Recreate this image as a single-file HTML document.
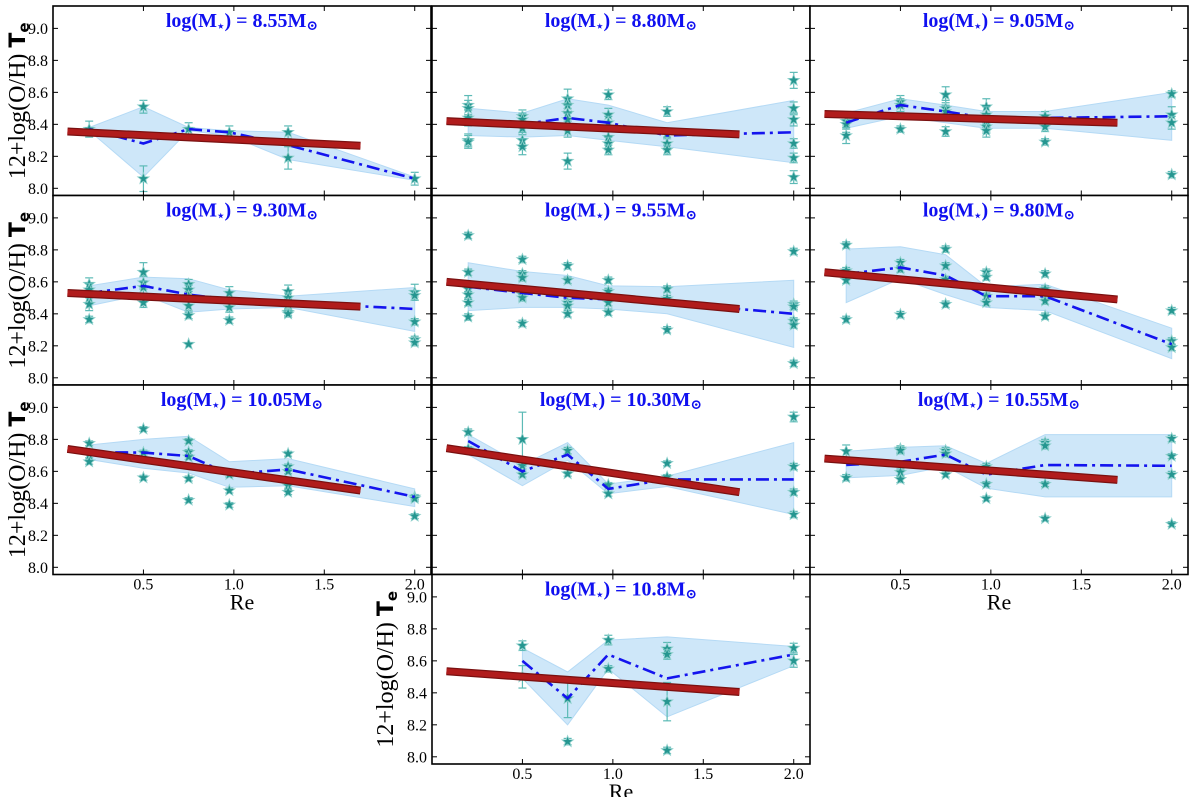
<!DOCTYPE html>
<html><head><meta charset="utf-8">
<style>
html,body{margin:0;padding:0;background:#fff;}
svg{display:block;}
.tick{font-family:"Liberation Serif","DejaVu Serif",serif;font-size:16px;fill:#000;}
.ttl{font-family:"Liberation Serif","DejaVu Serif",serif;font-weight:bold;font-size:20px;fill:#1010f0;}
.ylab{font-family:"Liberation Serif","DejaVu Serif",serif;font-size:24px;fill:#000;}
.xlab{font-family:"Liberation Serif","DejaVu Serif",serif;font-size:22px;fill:#000;}
</style></head>
<body>
<svg id="chart" width="1200" height="797" viewBox="0 0 1200 797" xmlns="http://www.w3.org/2000/svg"></svg>
<script>
// ---- data ----
const massLabels = ["8.55","8.80","9.05","9.30","9.55","9.80","10.05","10.30","10.55","10.8"];
const binsX = [0.2,0.5,0.75,0.975,1.3,2.0];
const binsXLast = [0.5,0.75,0.975,1.3,2.0];
const meanY = [
 [8.37,8.28,8.37,8.35,8.27,8.06],
 [8.43,8.40,8.44,8.41,8.33,8.35],
 [8.41,8.52,8.48,8.44,8.44,8.45],
 [8.53,8.575,8.52,8.49,8.47,8.43],
 [8.57,8.53,8.50,8.49,8.47,8.40],
 [8.65,8.69,8.64,8.51,8.51,8.21],
 [8.72,8.717,8.696,8.583,8.612,8.44],
 [8.79,8.60,8.705,8.49,8.55,8.55],
 [8.64,8.66,8.705,8.58,8.64,8.635],
 [8.60,8.365,8.64,8.49,8.64]
];
const upperY = [
 [8.38,8.51,8.38,8.36,8.35,8.07],
 [8.50,8.47,8.56,8.52,8.41,8.55],
 [8.47,8.56,8.52,8.48,8.48,8.60],
 [8.575,8.63,8.62,8.55,8.51,8.565],
 [8.72,8.665,8.64,8.575,8.57,8.61],
 [8.805,8.82,8.77,8.57,8.585,8.31],
 [8.765,8.80,8.82,8.66,8.68,8.49],
 [8.83,8.64,8.78,8.52,8.57,8.78],
 [8.725,8.75,8.76,8.65,8.83,8.83],
 [8.68,8.53,8.73,8.75,8.69]
];
const lowerY = [
 [8.36,8.07,8.36,8.33,8.18,8.05],
 [8.33,8.32,8.33,8.30,8.26,8.16],
 [8.375,8.45,8.41,8.375,8.375,8.30],
 [8.45,8.52,8.41,8.43,8.44,8.29],
 [8.42,8.44,8.44,8.43,8.40,8.19],
 [8.47,8.62,8.52,8.44,8.42,8.12],
 [8.675,8.62,8.59,8.50,8.51,8.38],
 [8.705,8.51,8.67,8.46,8.505,8.33],
 [8.56,8.575,8.63,8.495,8.44,8.44],
 [8.49,8.20,8.55,8.25,8.57]
];
// points: [Re, value, error]
const points0 = [[0.2,8.37,0.05],[0.5,8.51,0.04],[0.5,8.06,0.08],[0.75,8.37,0.04],[0.975,8.35,0.04],[1.3,8.35,0.04],[1.3,8.19,0.07],[2.0,8.06,0.04]];
const points1 = [[0.2,8.52,0.06],[0.2,8.50,0.05],[0.2,8.44,0.05],[0.2,8.30,0.04],[0.2,8.29,0.04],[0.5,8.45,0.04],[0.5,8.43,0.04],[0.5,8.375,0.04],[0.5,8.30,0.05],[0.5,8.26,0.05],[0.75,8.56,0.06],[0.75,8.52,0.05],[0.75,8.47,0.05],[0.75,8.43,0.04],[0.75,8.36,0.04],[0.75,8.17,0.05],[0.975,8.585,0.03],[0.975,8.46,0.04],[0.975,8.41,0.04],[0.975,8.32,0.04],[0.975,8.28,0.04],[0.975,8.24,0.03],[1.3,8.48,0.03],[1.3,8.34,0.03],[1.3,8.28,0.04],[1.3,8.24,0.03],[2.0,8.675,0.05],[2.0,8.50,0.04],[2.0,8.43,0.04],[2.0,8.28,0.03],[2.0,8.19,0.03],[2.0,8.07,0.04]];
const points2 = [[0.2,8.42,0.05],[0.2,8.40,0.05],[0.2,8.33,0.05],[0.5,8.54,0.04],[0.5,8.52,0.04],[0.5,8.37,0.02],[0.75,8.585,0.05],[0.75,8.50,0.05],[0.75,8.48,0.04],[0.75,8.355,0.03],[0.975,8.51,0.05],[0.975,8.46,0.05],[0.975,8.42,0.04],[0.975,8.385,0.04],[0.975,8.36,0.04],[1.3,8.45,0.03],[1.3,8.385,0.03],[1.3,8.29,0.02],[2.0,8.59,0.02],[2.0,8.46,0.05],[2.0,8.41,0.04],[2.0,8.085,0.02]];
const points3 = [[0.2,8.585,0.04],[0.2,8.55,0.04],[0.2,8.50,0.04],[0.2,8.46,0.04],[0.2,8.365,0.02],[0.5,8.66,0.06],[0.5,8.595,0.04],[0.5,8.565,0.04],[0.5,8.47,0.03],[0.75,8.585,0.03],[0.75,8.55,0.03],[0.75,8.51,0.03],[0.75,8.45,0.03],[0.75,8.39,0.02],[0.75,8.21,0.0],[0.975,8.53,0.04],[0.975,8.44,0.03],[0.975,8.36,0.02],[1.3,8.54,0.04],[1.3,8.50,0.03],[1.3,8.46,0.03],[1.3,8.41,0.02],[1.3,8.40,0.02],[2.0,8.535,0.05],[2.0,8.515,0.03],[2.0,8.35,0.02],[2.0,8.24,0.02],[2.0,8.22,0.02]];
const points4 = [[0.2,8.89,0.02],[0.2,8.66,0.02],[0.2,8.555,0.02],[0.2,8.52,0.02],[0.2,8.47,0.02],[0.2,8.38,0.02],[0.5,8.74,0.02],[0.5,8.65,0.02],[0.5,8.625,0.02],[0.5,8.52,0.02],[0.5,8.50,0.02],[0.5,8.34,0.02],[0.75,8.70,0.02],[0.75,8.61,0.02],[0.75,8.47,0.02],[0.75,8.45,0.02],[0.75,8.40,0.02],[0.975,8.61,0.02],[0.975,8.54,0.02],[0.975,8.47,0.02],[0.975,8.41,0.02],[1.3,8.555,0.02],[1.3,8.495,0.02],[1.3,8.30,0.02],[2.0,8.79,0.02],[2.0,8.46,0.02],[2.0,8.445,0.02],[2.0,8.355,0.02],[2.0,8.33,0.02],[2.0,8.09,0.02]];
const points5 = [[0.2,8.83,0.02],[0.2,8.67,0.02],[0.2,8.61,0.02],[0.2,8.365,0.02],[0.5,8.72,0.02],[0.5,8.68,0.02],[0.5,8.395,0.02],[0.75,8.805,0.02],[0.75,8.70,0.02],[0.75,8.615,0.02],[0.75,8.46,0.02],[0.975,8.66,0.02],[0.975,8.63,0.02],[0.975,8.51,0.02],[0.975,8.47,0.02],[1.3,8.65,0.02],[1.3,8.555,0.02],[1.3,8.48,0.02],[1.3,8.385,0.02],[2.0,8.42,0.02],[2.0,8.23,0.02],[2.0,8.19,0.02]];
const points6 = [[0.2,8.775,0.015],[0.2,8.70,0.015],[0.2,8.66,0.015],[0.5,8.865,0.015],[0.5,8.717,0.015],[0.5,8.56,0.015],[0.75,8.79,0.015],[0.75,8.72,0.015],[0.75,8.69,0.015],[0.75,8.555,0.015],[0.75,8.42,0.015],[0.975,8.58,0.015],[0.975,8.48,0.015],[0.975,8.39,0.015],[1.3,8.71,0.015],[1.3,8.63,0.015],[1.3,8.60,0.015],[1.3,8.51,0.015],[1.3,8.47,0.015],[2.0,8.44,0.015],[2.0,8.43,0.015],[2.0,8.32,0.015]];
const points7 = [[0.2,8.845,0.02],[0.2,8.74,0.015],[0.5,8.80,0.17],[0.5,8.635,0.02],[0.5,8.58,0.015],[0.75,8.73,0.02],[0.75,8.585,0.015],[0.975,8.515,0.015],[0.975,8.46,0.015],[1.3,8.65,0.015],[1.3,8.565,0.015],[2.0,8.94,0.03],[2.0,8.63,0.02],[2.0,8.47,0.02],[2.0,8.33,0.02]];
const points8 = [[0.2,8.725,0.04],[0.2,8.56,0.02],[0.5,8.74,0.02],[0.5,8.73,0.02],[0.5,8.595,0.02],[0.5,8.55,0.02],[0.75,8.73,0.02],[0.75,8.71,0.02],[0.75,8.58,0.015],[0.975,8.63,0.02],[0.975,8.52,0.015],[0.975,8.43,0.015],[1.3,8.78,0.02],[1.3,8.76,0.02],[1.3,8.52,0.015],[1.3,8.305,0.015],[2.0,8.805,0.02],[2.0,8.695,0.015],[2.0,8.58,0.02],[2.0,8.27,0.015]];
const points9 = [[0.5,8.695,0.03],[0.5,8.50,0.07],[0.75,8.365,0.12],[0.75,8.095,0.02],[0.975,8.73,0.03],[0.975,8.55,0.02],[1.3,8.675,0.04],[1.3,8.64,0.03],[1.3,8.345,0.12],[1.3,8.04,0.02],[2.0,8.68,0.03],[2.0,8.60,0.04]];
const pointSets = [points0,points1,points2,points3,points4,points5,points6,points7,points8,points9];
const fitStartX = 0.08, fitEndX = 1.7;
const fitStartY = [8.355,8.42,8.465,8.53,8.60,8.66,8.74,8.745,8.68,8.535];
const fitEndY   = [8.266,8.337,8.41,8.445,8.43,8.49,8.48,8.47,8.547,8.405];
const yTicks = [8.0,8.2,8.4,8.6,8.8,9.0];
const yTickLabels = ["8.0","8.2","8.4","8.6","8.8","9.0"];
const xTicks = [0.5,1.0,1.5,2.0];
const xTickLabels = ["0.5","1.0","1.5","2.0"];

// ---- layout ----
const NS="http://www.w3.org/2000/svg";
const svg=document.getElementById('chart');
const colL=[53,432,810], PW=378, rowT=[6,195.5,385,574.5], PH=189.5;
const XMIN=0, XMAX=2.09, YMIN=7.955, YMAX=9.14;
function mk(tag,attrs,parent){const e=document.createElementNS(NS,tag);for(const k in attrs)e.setAttribute(k,attrs[k]);(parent||svg).appendChild(e);return e;}
function starPts(cx,cy,R){const r=R*0.42;let p=[];for(let i=0;i<10;i++){const a=-Math.PI/2+i*Math.PI/5;const rr=i%2?r:R;p.push((cx+rr*Math.cos(a)).toFixed(1)+','+(cy+rr*Math.sin(a)).toFixed(1));}return p.join(' ');}

const panels=[];
for(let i=0;i<9;i++)panels.push({L:colL[i%3],T:rowT[Math.floor(i/3)]});
panels.push({L:colL[1],T:rowT[3]});

panels.forEach((pn,i)=>{
  const sx=v=>pn.L+(v-XMIN)/(XMAX-XMIN)*PW;
  const sy=v=>pn.T+(YMAX-v)/(YMAX-YMIN)*PH;
  const g=mk('g',{});
  
  
  mk('rect',{x:pn.L,y:pn.T,width:PW,height:PH,fill:'#fff'},g);
  const bx = i===9?binsXLast:binsX;
  let d='';
  bx.forEach((x,k)=>{d+=(k?'L':'M')+sx(x).toFixed(1)+','+sy(upperY[i][k]).toFixed(1);});
  for(let k=bx.length-1;k>=0;k--)d+='L'+sx(bx[k]).toFixed(1)+','+sy(lowerY[i][k]).toFixed(1);
  const band=mk('path',{d:d+'Z',fill:'#c9e4f8','fill-opacity':'0.9',stroke:'#b5daf5','stroke-width':1},g);
  
  
  pointSets[i].forEach(p=>{
    const cx=sx(p[0]),cy=sy(p[1]);
    if(p[2]>0){
      const y1=sy(p[1]+p[2]),y2=sy(p[1]-p[2]);
      mk('line',{x1:cx,y1:y1,x2:cx,y2:y2,stroke:'#5cbab6','stroke-width':1.2},g);
      mk('line',{x1:cx-4,y1:y1,x2:cx+4,y2:y1,stroke:'#5cbab6','stroke-width':1.2},g);
      mk('line',{x1:cx-4,y1:y2,x2:cx+4,y2:y2,stroke:'#5cbab6','stroke-width':1.2},g);
    }
    const s=mk('polygon',{points:starPts(cx,cy,6),fill:'#259690',stroke:'#8fd0cc','stroke-width':0.8},g);
    
    
  });
  const md=bx.map((x,k)=>(k?'L':'M')+sx(x).toFixed(1)+','+sy(meanY[i][k]).toFixed(1)).join('');
  const ml=mk('path',{d:md,fill:'none',stroke:'#1414ee','stroke-width':2.6,'stroke-dasharray':'13,5,3,5'},g);
  
  
  const fl=mk('line',{x1:sx(fitStartX),y1:sy(fitStartY[i]),x2:sx(fitEndX),y2:sy(fitEndY[i]),stroke:'#7a1010','stroke-width':8},g);
  
  
  mk('line',{x1:sx(fitStartX),y1:sy(fitStartY[i]),x2:sx(fitEndX),y2:sy(fitEndY[i]),stroke:'#b01c1c','stroke-width':5.5},g);
  yTicks.forEach(v=>{const y=sy(v);
    mk('line',{x1:pn.L,y1:y,x2:pn.L+5,y2:y,stroke:'#000','stroke-width':1},g);
    mk('line',{x1:pn.L+PW-5,y1:y,x2:pn.L+PW,y2:y,stroke:'#000','stroke-width':1},g);});
  xTicks.forEach(v=>{const x=sx(v);
    mk('line',{x1:x,y1:pn.T,x2:x,y2:pn.T+5,stroke:'#000','stroke-width':1},g);
    mk('line',{x1:x,y1:pn.T+PH-5,x2:x,y2:pn.T+PH,stroke:'#000','stroke-width':1},g);});
  mk('rect',{x:pn.L,y:pn.T,width:PW,height:PH,fill:'none',stroke:'#000','stroke-width':1.6},g);
  const t=mk('text',{x:pn.L+PW/2,y:pn.T+21,'text-anchor':'middle',class:'ttl'},g);
  
  
  t.innerHTML='log(M<tspan font-size="12" dy="3">⋆</tspan><tspan dy="-3">) = '+massLabels[i]+'M</tspan><tspan font-size="14" dy="3">⊙</tspan>';
  if(i%3===0||i===9){
    yTicks.forEach((v,k)=>{const tl=mk('text',{x:pn.L-5,y:sy(v)+5.5,'text-anchor':'end',class:'tick'},g);tl.textContent=yTickLabels[k];
      
      });
    const cy=pn.T+PH/2, lx=(i===9)?pn.L-47:17;
    const yl=mk('text',{x:lx,y:cy,'text-anchor':'middle',class:'ylab',transform:'rotate(-90 '+lx+' '+cy+')',dy:'8'},g);
    
    
    yl.innerHTML='12+log(O/H) <tspan font-family="DejaVu Sans, sans-serif" font-weight="bold" font-size="22">T</tspan><tspan font-family="DejaVu Sans, sans-serif" font-weight="bold" font-size="15" dy="4">e</tspan>';
  }
  if(i===6||i===8||i===9){
    xTicks.forEach((v,k)=>{const tl=mk('text',{x:sx(v),y:pn.T+PH+15,'text-anchor':'middle',class:'tick'},g);tl.textContent=xTickLabels[k];
      
      });
    const xl=mk('text',{x:pn.L+PW/2,y:pn.T+PH+35,'text-anchor':'middle',class:'xlab'},g);
    xl.textContent='Re';
    
    
  }
});
</script>
</body></html>
